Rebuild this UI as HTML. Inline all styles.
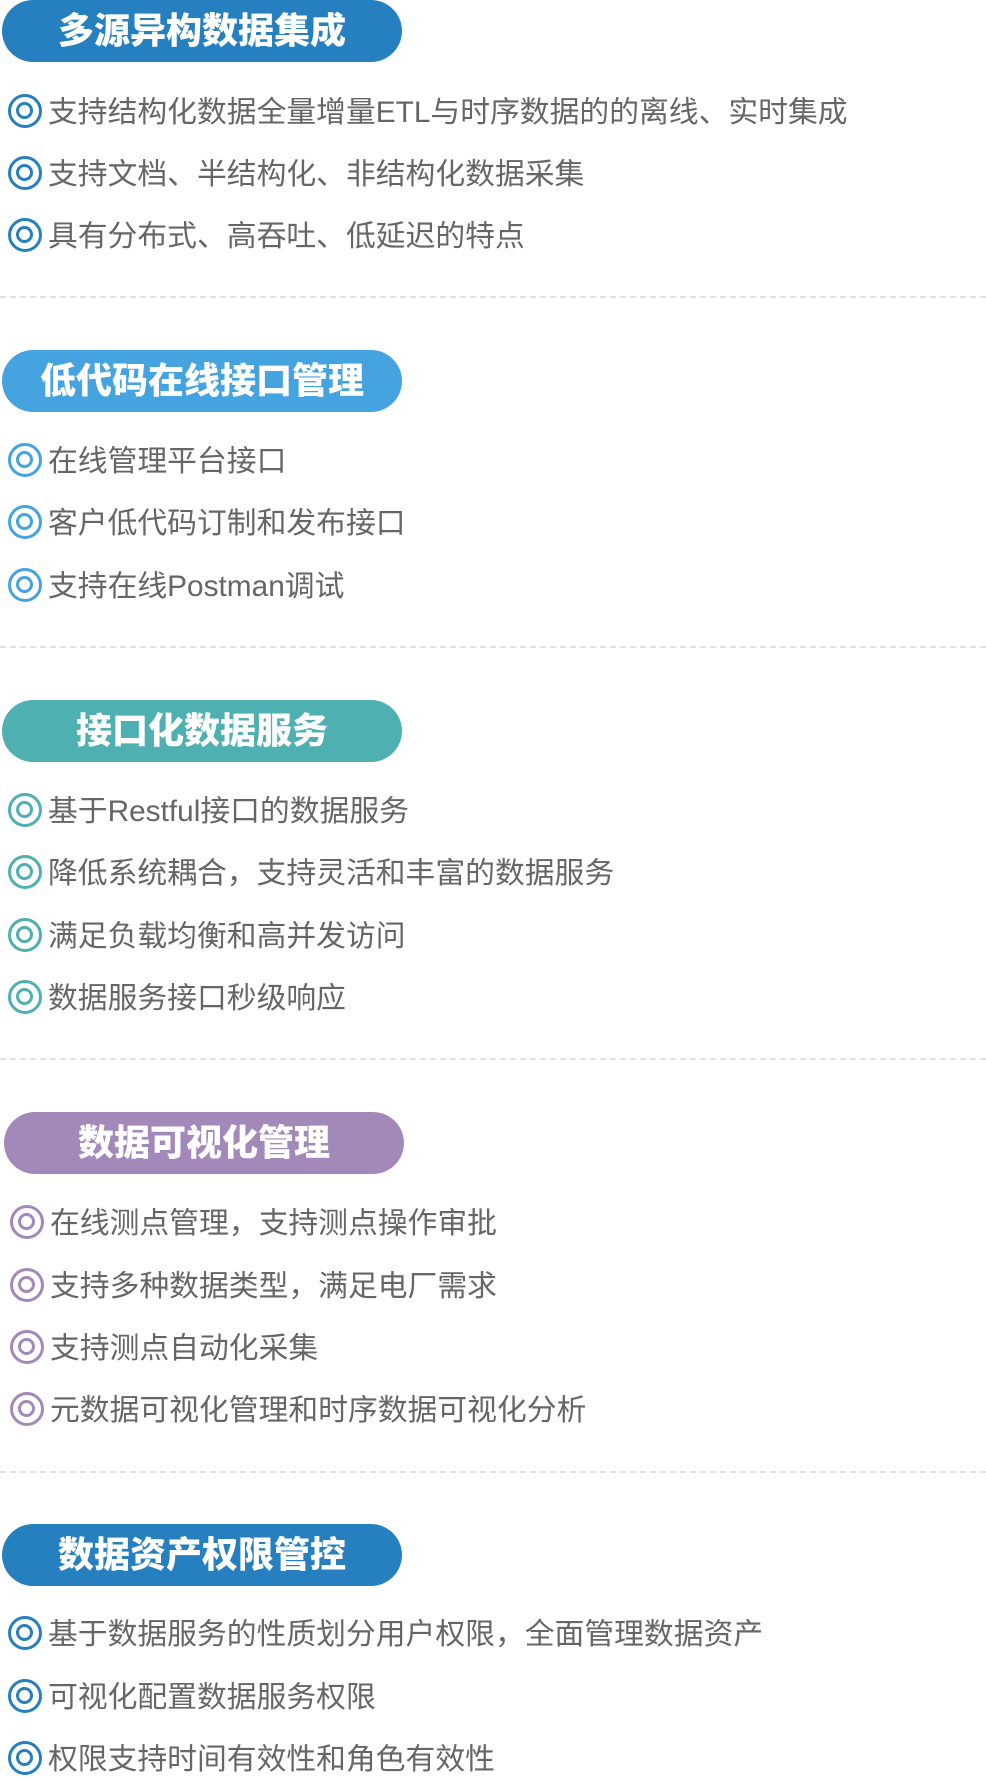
<!DOCTYPE html>
<html><head><meta charset="utf-8"><style>
body{margin:0;width:986px;height:1777px;background:#fff;position:relative;overflow:hidden;font-family:"Liberation Sans","Noto Sans CJK SC",sans-serif}
.pill{position:absolute;left:2px;width:400px;height:62px;border-radius:31px;color:#fff;font-weight:900;font-size:36px;line-height:62px;text-align:center}
.it{position:absolute;left:8px;height:40px;line-height:40px;font-size:29.8px;color:#666;white-space:nowrap}
.it i{display:inline-block;box-sizing:border-box;width:34px;height:34px;border:3.5px solid;border-radius:50%;vertical-align:middle;position:relative;margin-right:6px;top:-3px}
.it i:after{content:"";box-sizing:border-box;position:absolute;left:5px;top:5px;width:17px;height:17px;border:3.5px solid;border-color:inherit;border-radius:50%}
.d{position:absolute;left:0;width:986px;border-top:2px dashed #e2e2e2}
</style></head><body>
<div class="pill" style="top:0;background:#2680bf">多源异构数据集成</div>
<div class="it" style="top:93px"><i style="border-color:#2680bf"></i>支持结构化数据全量增量ETL与时序数据的的离线、实时集成</div>
<div class="it" style="top:155px"><i style="border-color:#2680bf"></i>支持文档、半结构化、非结构化数据采集</div>
<div class="it" style="top:217px"><i style="border-color:#2680bf"></i>具有分布式、高吞吐、低延迟的特点</div>
<div class="d" style="top:296px"></div>

<div class="pill" style="top:350px;background:#45a3e0">低代码在线接口管理</div>
<div class="it" style="top:442px"><i style="border-color:#45a3e0"></i>在线管理平台接口</div>
<div class="it" style="top:504px"><i style="border-color:#45a3e0"></i>客户低代码订制和发布接口</div>
<div class="it" style="top:567px"><i style="border-color:#45a3e0"></i>支持在线Postman调试</div>
<div class="d" style="top:646px"></div>

<div class="pill" style="top:700px;background:#4fb0b1">接口化数据服务</div>
<div class="it" style="top:792px"><i style="border-color:#4fb0b1"></i>基于Restful接口的数据服务</div>
<div class="it" style="top:854px"><i style="border-color:#4fb0b1"></i>降低系统耦合，支持灵活和丰富的数据服务</div>
<div class="it" style="top:917px"><i style="border-color:#4fb0b1"></i>满足负载均衡和高并发访问</div>
<div class="it" style="top:979px"><i style="border-color:#4fb0b1"></i>数据服务接口秒级响应</div>
<div class="d" style="top:1058px"></div>

<div class="pill" style="top:1112px;left:4px;background:#a389b9">数据可视化管理</div>
<div class="it" style="top:1204px;left:10px"><i style="border-color:#a389b9"></i>在线测点管理，支持测点操作审批</div>
<div class="it" style="top:1267px;left:10px"><i style="border-color:#a389b9"></i>支持多种数据类型，满足电厂需求</div>
<div class="it" style="top:1329px;left:10px"><i style="border-color:#a389b9"></i>支持测点自动化采集</div>
<div class="it" style="top:1391px;left:10px"><i style="border-color:#a389b9"></i>元数据可视化管理和时序数据可视化分析</div>
<div class="d" style="top:1471px"></div>

<div class="pill" style="top:1524px;background:#2680bf">数据资产权限管控</div>
<div class="it" style="top:1615px"><i style="border-color:#2680bf"></i>基于数据服务的性质划分用户权限，全面管理数据资产</div>
<div class="it" style="top:1678px"><i style="border-color:#2680bf"></i>可视化配置数据服务权限</div>
<div class="it" style="top:1740px"><i style="border-color:#2680bf"></i>权限支持时间有效性和角色有效性</div>
</body></html>
